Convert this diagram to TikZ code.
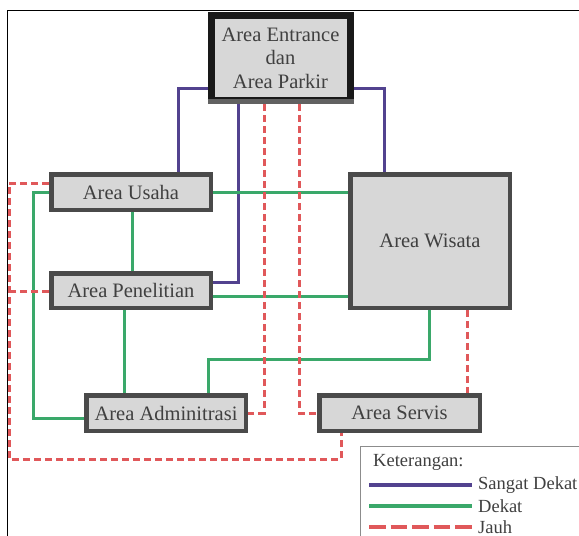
\documentclass[tikz,border=0pt]{standalone}
\usepackage{fontspec}
\setmainfont{Liberation Serif}
\usetikzlibrary{backgrounds}
\definecolor{vclose}{HTML}{52428F}
\definecolor{close}{HTML}{3AA86A}
\definecolor{far}{HTML}{E0585A}
\definecolor{boxfill}{HTML}{D7D7D7}
\definecolor{boxline}{HTML}{4A4A4A}
\definecolor{txt}{HTML}{404040}
\begin{document}
\begin{tikzpicture}[x=1pt,y=-1pt,
  area/.style={draw=boxline,fill=boxfill,line width=4.5pt,inner sep=0pt,
    text=txt,font=\fontsize{20.5}{23.5}\selectfont,align=center,
    minimum width=159.5pt,minimum height=35.5pt},
  vcl/.style={draw=vclose,line width=3pt},
  cl/.style={draw=close,line width=3pt},
  fr/.style={draw=far,line width=3pt,dash pattern=on 7pt off 4pt},
  legtext/.style={anchor=west,inner sep=0pt,text=txt,font=\fontsize{18.5}{21}\selectfont}]
\useasboundingbox (0,0) rectangle (579,536);

% areas
\node[area,draw=black!90,line width=7pt,minimum width=139pt,minimum height=85pt]
  (entr) at (280.5,58) {Area Entrance\\dan\\Area Parkir};
% grey lower rim of the entrance block
\draw[draw=black!62,line width=5pt]
  ([yshift=2.5pt]entr.south west) -- ([yshift=2.5pt]entr.south east);
\node[area] (usaha) at (131,192) {Area Usaha};
\node[area,minimum height=34.5pt] (pen) at (131,290.5) {Area Penelitian};
\node[area] (adm) at (166,413) {Area Adminitrasi};
\node[area,minimum width=160.5pt] (serv) at (399.5,413) {Area Servis};
\node[area,minimum height=133.5pt] (wis) at (430,241) {Area Wisata};

\begin{scope}[on background layer]
  \fill[white] (0,0) rectangle (579,536);
  % outer frame (open to the right and bottom)
  \draw[black,line width=1pt] (579,10) -- (7,10) -- (7,536);
  % sangat dekat
  \draw[vcl] (entr.west |- 0,88) -| (usaha.north -| 178,0);
  \draw[vcl] (entr.south -| 238,0) |- (pen.east |- 0,282);
  \draw[vcl] (entr.east |- 0,88) -| (wis.north -| 384,0);
  % dekat
  \draw[cl] (usaha.east) -- (wis.west |- usaha.east);
  \draw[cl] (usaha.south -| 132,0) -- (pen.north -| 132,0);
  \draw[cl] (usaha.west) -| (33,418) -- (adm.west |- 0,418);
  \draw[cl] (pen.east |- 0,296) -- (wis.west |- 0,296);
  \draw[cl] (pen.south -| 124,0) -- (adm.north -| 124,0);
  \draw[cl] (wis.south -| 429,0) |- (208,359) -- (adm.north -| 208,0);
  % jauh
  \draw[fr] (usaha.west |- 0,183) -| (9,459) -| (serv.south -| 341,0);
  \draw[fr] (pen.west |- 0,291) -- (9,291);
  \draw[fr] (entr.south -| 264,0) |- (adm.east |- 0,413);
  \draw[fr] (entr.south -| 299,0) |- (serv.west |- 0,413);
  \draw[fr] (wis.south -| 467,0) -- (serv.north -| 467,0);
\end{scope}

% legend
\fill[white] (360,446) rectangle (579,536);
\draw[black!45,line width=1pt] (579,446) -- (360,446) -- (360,536);
\node[legtext] (ket) at (373,462) {Keterangan:};
\coordinate (l1a) at (369,485); \coordinate (l1b) at (472,485);
\coordinate (l2a) at (369,506); \coordinate (l2b) at (472,506);
\coordinate (l3a) at (369,527); \coordinate (l3b) at (472,527);
\draw[draw=vclose,line width=4.5pt] (l1a) -- (l1b);
\draw[draw=close,line width=4.5pt] (l2a) -- (l2b);
\draw[draw=far,line width=4.5pt,dash pattern=on 16.5pt off 5pt] (l3a) -- (l3b);
\node[legtext] (sd) at (478,485) {Sangat Dekat};
\node[legtext] (dk) at (478,506) {Dekat};
\node[legtext] (jh) at (478,527) {Jauh};
\end{tikzpicture}
\end{document}
